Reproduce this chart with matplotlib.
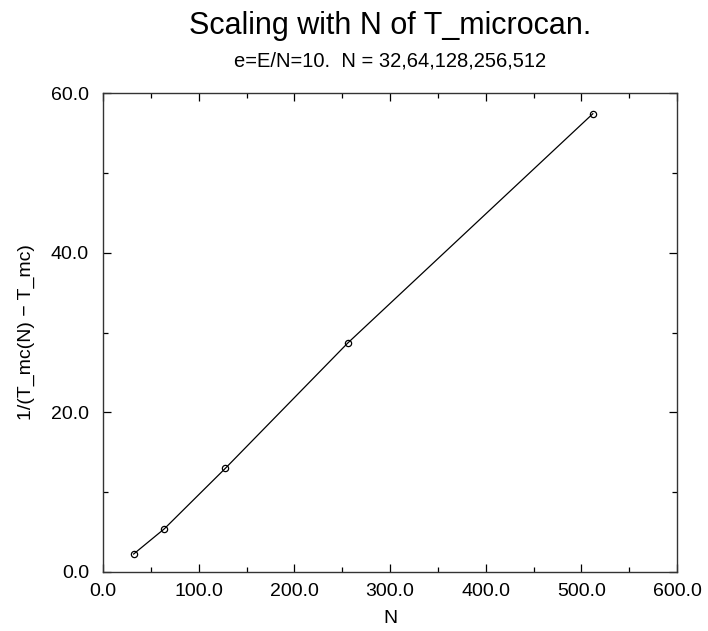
import matplotlib
matplotlib.use("Agg")
import matplotlib.pyplot as plt
from matplotlib.ticker import MultipleLocator, FormatStrFormatter

# data
n_values = [32, 64, 128, 256, 512]
inv_dT = [2.25, 5.4, 13.0, 28.7, 57.4]

plt.rcParams['font.family'] = ['Liberation Sans', 'DejaVu Sans']

fig = plt.figure(figsize=(7.08, 6.31), dpi=100)
ax = fig.add_axes([103 / 708, 1 - 572 / 631, 574 / 708, 479 / 631])

ax.plot(n_values, inv_dT, color='black', lw=0.9, marker='o', ms=4.5,
        mfc='none', mec='black', mew=0.9)

ax.set_xlim(0, 600)
ax.set_ylim(0, 60)
ax.xaxis.set_major_locator(MultipleLocator(100))
ax.xaxis.set_minor_locator(MultipleLocator(50))
ax.yaxis.set_major_locator(MultipleLocator(20))
ax.yaxis.set_minor_locator(MultipleLocator(10))
ax.xaxis.set_major_formatter(FormatStrFormatter('%.1f'))
ax.yaxis.set_major_formatter(FormatStrFormatter('%.1f'))

ax.tick_params(which='both', direction='in', top=True, right=True,
               labelsize=14, color='black', width=0.9)
ax.tick_params(which='major', length=5.5)
ax.tick_params(which='minor', length=3.5)
ax.tick_params(axis='x', which='major', pad=8)
ax.tick_params(axis='y', which='major', pad=10)
for s in ax.spines.values():
    s.set_linewidth(1.0)
    s.set_color('#333333')

ax.set_xlabel('N', fontsize=14)
ax.set_ylabel('1/(T_mc(N) \u2212 T_mc)', fontsize=14)
ax.xaxis.set_label_coords(0.5, -0.079)
ax.yaxis.set_label_coords(-0.118, 0.5)

fig.text(390 / 708, 1 - 26 / 631, 'Scaling with N of T_microcan.',
         ha='center', va='center', fontsize=22)
fig.text(390 / 708, 1 - 61 / 631, 'e=E/N=10.  N = 32,64,128,256,512',
         ha='center', va='center', fontsize=14.5)

fig.savefig('out.png', dpi=100, facecolor='white')
